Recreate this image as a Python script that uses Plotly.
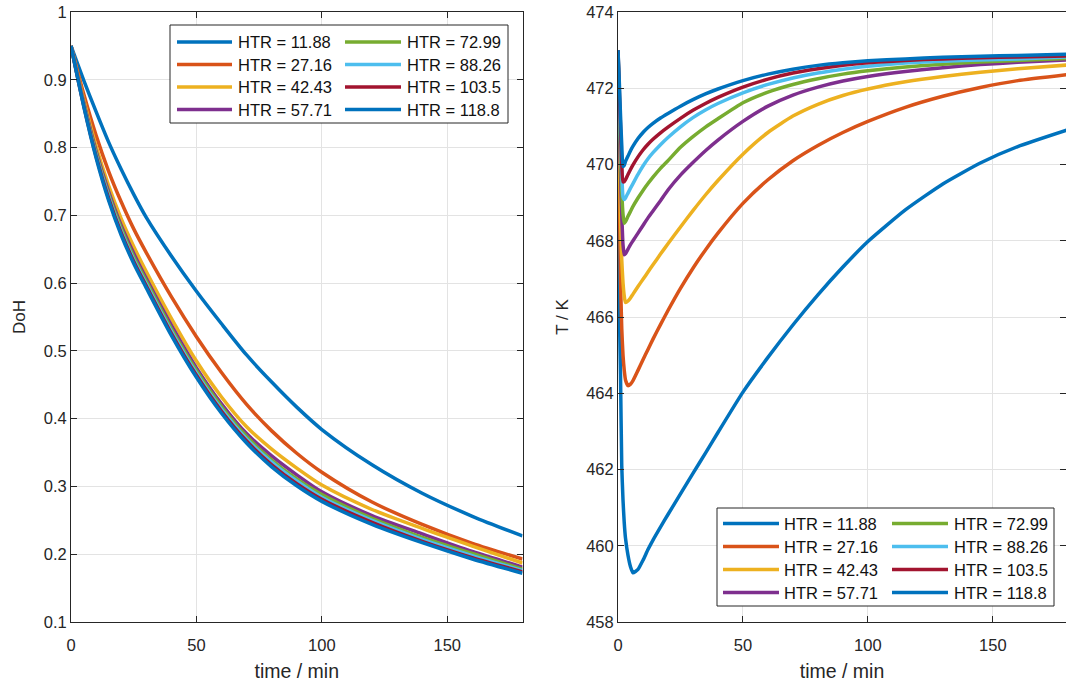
import plotly.graph_objects as go

# legend labels and MATLAB default line colours
htr = ["11.88", "27.16", "42.43", "57.71", "72.99", "88.26", "103.5", "118.8"]
colors = ["#0072BD", "#D95319", "#EDB120", "#7E2F8E", "#77AC30", "#4DBEEE", "#A2142F", "#0072BD"]

# left panel: degree of hydrogenation over time
t_doh = [0, 5, 10, 15, 20, 25, 30, 40, 50, 60, 70, 80, 90, 100, 120, 140, 160, 180]
doh_11_88 = [.95, .900, .853, .808, .768, .731, .697, .640, .588, .540, .494, .454, .417, .384, .332, .290, .256, .227]
doh_27_16 = [.95, .880, .818, .765, .720, .680, .645, .580, .521, .468, .421, .382, .349, .321, .277, .244, .216, .193]
doh_42_43 = [.95, .872, .802, .744, .695, .654, .617, .548, .485, .432, .388, .355, .327, .302, .266, .238, .212, .187]
doh_57_71 = [.95, .868, .795, .735, .685, .644, .607, .538, .475, .422, .378, .345, .317, .292, .257, .230, .204, .181]
doh_72_99 = [.95, .866, .792, .731, .681, .639, .603, .533, .471, .418, .374, .339, .311, .288, .253, .225, .201, .178]
doh_88_26 = [.95, .864, .789, .728, .677, .635, .599, .529, .467, .414, .370, .336, .308, .284, .250, .222, .198, .176]
doh_103_5 = [.95, .863, .787, .725, .674, .632, .596, .526, .464, .411, .367, .332, .304, .281, .247, .219, .195, .174]
doh_118_8 = [.95, .862, .785, .722, .671, .629, .593, .523, .461, .408, .364, .329, .301, .278, .244, .217, .193, .172]

# right panel: temperature over time
t_temp = [0, 0.5, 1, 1.5, 2, 2.5, 3, 4, 5, 6, 8, 10, 12, 14, 17, 20, 25, 30, 35, 40,
          50, 60, 70, 80, 90, 100, 115, 130, 145, 160, 180]
temp_11_88 = [473, 466.4, 464.5, 462.1, 461.2, 460.6, 460.2, 459.75, 459.45, 459.29, 459.38, 459.62, 459.9, 460.15,
              460.49, 460.82, 461.36, 461.9, 462.43, 462.97, 464.03, 464.94, 465.79, 466.58, 467.31, 467.98,
              468.81, 469.49, 470.04, 470.47, 470.91]
temp_27_16 = [473, 469.5, 467.0, 465.7, 465.0, 464.6, 464.35, 464.2, 464.24, 464.33, 464.6, 464.88, 465.15, 465.42,
              465.8, 466.17, 466.75, 467.28, 467.76, 468.2, 468.98, 469.6, 470.1, 470.5, 470.84, 471.13,
              471.5, 471.79, 472.02, 472.2, 472.36]
temp_42_43 = [473, 470.5, 468.6, 467.5, 466.9, 466.55, 466.38, 466.42, 466.5, 466.6, 466.8, 466.99, 467.18, 467.37,
              467.65, 467.92, 468.36, 468.79, 469.2, 469.58, 470.27, 470.84, 471.27, 471.58, 471.81, 471.98,
              472.17, 472.31, 472.42, 472.51, 472.61]
temp_57_71 = [473, 471.2, 469.8, 468.7, 467.9, 467.63, 467.66, 467.78, 467.9, 468.0, 468.2, 468.4, 468.6, 468.78,
              469.05, 469.33, 469.72, 470.05, 470.36, 470.64, 471.13, 471.53, 471.82, 472.03, 472.19, 472.31,
              472.44, 472.54, 472.62, 472.68, 472.74]
temp_72_99 = [473, 471.5, 470.3, 469.3, 468.7, 468.46, 468.5, 468.64, 468.77, 468.9, 469.12, 469.32, 469.5, 469.67,
              469.9, 470.1, 470.45, 470.73, 470.98, 471.2, 471.62, 471.9, 472.1, 472.25, 472.37, 472.46,
              472.56, 472.63, 472.69, 472.73, 472.78]
temp_88_26 = [473, 471.8, 470.7, 469.8, 469.15, 469.08, 469.12, 469.25, 469.38, 469.5, 469.74, 469.96, 470.15, 470.31,
              470.52, 470.71, 470.99, 471.23, 471.43, 471.6, 471.88, 472.1, 472.27, 472.4, 472.5, 472.58,
              472.66, 472.71, 472.74, 472.77, 472.82]
temp_103_5 = [473, 472.0, 471.0, 470.0, 469.55, 469.55, 469.6, 469.74, 469.87, 469.99, 470.2, 470.38, 470.53, 470.66,
              470.83, 470.98, 471.21, 471.42, 471.6, 471.76, 472.03, 472.24, 472.4, 472.51, 472.6, 472.67,
              472.73, 472.77, 472.8, 472.82, 472.85]
temp_118_8 = [473, 472.2, 471.3, 470.5, 469.95, 469.98, 470.08, 470.22, 470.36, 470.48, 470.68, 470.84, 470.97, 471.08,
              471.22, 471.34, 471.53, 471.7, 471.85, 471.98, 472.2, 472.37, 472.5, 472.6, 472.67, 472.72,
              472.77, 472.81, 472.84, 472.86, 472.89]

doh_series = [doh_11_88, doh_27_16, doh_42_43, doh_57_71, doh_72_99, doh_88_26, doh_103_5, doh_118_8]
temp_series = [temp_11_88, temp_27_16, temp_42_43, temp_57_71, temp_72_99, temp_88_26, temp_103_5, temp_118_8]

W, H = 1066, 682
PLOT_TOP, PLOT_BOT = 12, 622          # pixels of the axes box
FONT = "Liberation Sans, Arial, Helvetica, sans-serif"
INK = "#262626"
GRID = "#e3e3e3"

fig = go.Figure()

for i, h in enumerate(htr):
    fig.add_trace(go.Scatter(
        x=t_doh, y=doh_series[i], name="HTR = " + h, mode="lines",
        line=dict(color=colors[i], width=3.5, shape="spline", smoothing=0.8),
        xaxis="x", yaxis="y", showlegend=False))

for i, h in enumerate(htr):
    fig.add_trace(go.Scatter(
        x=t_temp, y=temp_series[i], name="HTR = " + h, mode="lines",
        line=dict(color=colors[i], width=3.5, shape="spline", smoothing=0.5),
        xaxis="x2", yaxis="y2", showlegend=False))


def px_x(p):
    return p / W


def px_y(p):
    return (PLOT_BOT - p) / (PLOT_BOT - PLOT_TOP)


# MATLAB style legend boxes (2 columns x 4 rows) drawn as shapes + text
shapes = []
annotations = []


def legend_box(x0, x1, y0, y1, row0, row_step, col_line, col_text):
    shapes.append(dict(type="rect", xref="paper", yref="paper",
                       x0=px_x(x0), x1=px_x(x1), y0=px_y(y1), y1=px_y(y0),
                       line=dict(color=INK, width=1), fillcolor="white", layer="above"))
    for i, h in enumerate(htr):
        col, row = divmod(i, 4)
        yy = px_y(row0 + row * row_step)
        lx0, lx1 = col_line[col]
        shapes.append(dict(type="line", xref="paper", yref="paper",
                           x0=px_x(lx0), x1=px_x(lx1), y0=yy, y1=yy,
                           line=dict(color=colors[i], width=3.5), layer="above"))
        annotations.append(dict(xref="paper", yref="paper", x=px_x(col_text[col]), y=yy,
                                xanchor="left", yanchor="middle", showarrow=False,
                                text="HTR = " + h, font=dict(family=FONT, size=16.5, color="#111111")))


legend_box(170, 508, 25, 123, 42, 22.5, [(177, 232), (345, 401)], [236, 405])
legend_box(717, 1054, 508, 606, 523.5, 23, [(723, 779), (892, 948)], [782, 952])

axis_common = dict(
    showline=True, linecolor=INK, linewidth=1, mirror="allticks",
    ticks="inside", ticklen=6, tickcolor=INK, tickwidth=1,
    showgrid=True, gridcolor=GRID, gridwidth=1, zeroline=False,
    tickfont=dict(family=FONT, size=16.5, color=INK),
    ticklabeloverflow="allow",
    automargin=False,
)

fig.update_layout(
    width=W, height=H, template="none",
    margin=dict(l=0, r=0, t=PLOT_TOP, b=H - PLOT_BOT),
    paper_bgcolor="white", plot_bgcolor="white",
    showlegend=False,
    xaxis=dict(domain=[px_x(71), px_x(522.5)], range=[0, 180], tickvals=[0, 50, 100, 150], anchor="y",
               ticklabelstandoff=8,
               title=dict(text="time / min", font=dict(family=FONT, size=19.5, color=INK), standoff=12),
               **axis_common),
    yaxis=dict(domain=[0, 1], range=[0.1, 1], tickvals=[0.1, 0.2, 0.3, 0.4, 0.5, 0.6, 0.7, 0.8, 0.9, 1],
               ticktext=["0.1", "0.2", "0.3", "0.4", "0.5", "0.6", "0.7", "0.8", "0.9", "1"], anchor="x",
               title=dict(text="DoH", font=dict(family=FONT, size=17, color=INK), standoff=13),
               **axis_common),
    xaxis2=dict(domain=[px_x(618), 1.0], range=[0, 179.3], tickvals=[0, 50, 100, 150], anchor="y2",
                ticklabelstandoff=8,
                title=dict(text="time / min", font=dict(family=FONT, size=19.5, color=INK), standoff=12),
                **axis_common),
    yaxis2=dict(domain=[0, 1], range=[458, 474], tickvals=list(range(458, 475, 2)), anchor="x2",
                title=dict(text="T / K", font=dict(family=FONT, size=17, color=INK), standoff=13),
                **axis_common),
    shapes=shapes,
    annotations=annotations,
)

# drop the browser's default body margin so the figure fills the window
fig.write_html("out.html", config={"displayModeBar": False},
               post_script="document.body.style.margin = '0';")
